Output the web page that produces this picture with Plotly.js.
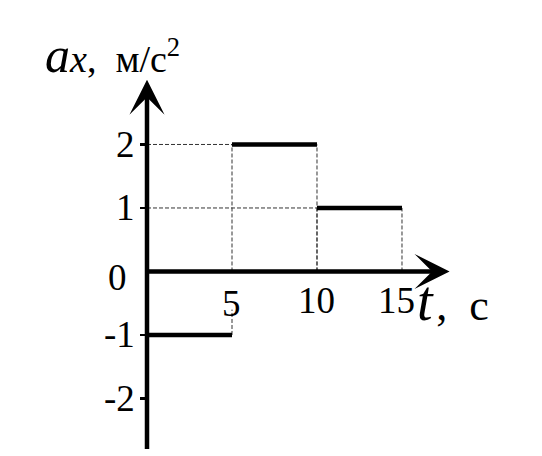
<!DOCTYPE html>
<html>
<head>
<meta charset="utf-8">
<script src="https://cdn.plot.ly/plotly-3.0.1.min.js"></script>
<style>html,body{margin:0;padding:0;background:#fff}#chart{width:542px;height:456px}</style>
</head>
<body>
<div id="chart"></div>
<script>
// Data
const tStart = [0, 5, 10];
const tEnd = [5, 10, 15];
const accel = [-1, 2, 1];
const yTickVals = [-2, -1, 0, 1, 2];
const yTickLabels = ['-2', '-1', '0', '1', '2'];
const xTickVals = [5, 10, 15];
const xTickLabels = ['5', '10', '15'];

const FONT = 'Liberation Serif, Times New Roman, serif';
const traces = [];

// dashed guide lines built from data
const gx = [], gy = [];
for (let i = 0; i < accel.length; i++) {
  const a = accel[i];
  if (tStart[i] > 0 && a > 0) { gx.push(0, tStart[i], null); gy.push(a, a, null); }
  [tStart[i], tEnd[i]].forEach(t => {
    if (t <= 0) return;
    if (a > 0) { gx.push(t, t, null); gy.push(0, a, null); }
    else { gx.push(t, t, null); gy.push(a, -0.6, null); }
  });
}
traces.push({x: gx, y: gy, mode: 'lines', line: {color: '#333', width: 1, dash: '4px,2px'}, hoverinfo: 'skip', connectgaps: false});

// solid segments
for (let i = 0; i < accel.length; i++) {
  traces.push({x: [tStart[i], tEnd[i]], y: [accel[i], accel[i]], mode: 'lines', line: {color: '#000', width: 4.5}, hoverinfo: 'skip'});
}

const annotations = [];
// axes arrows
annotations.push({x: 0, y: 3.02, ax: 0, ay: -2.82, xref: 'x', yref: 'y', axref: 'x', ayref: 'y', text: '', showarrow: true, arrowhead: 3, arrowsize: 1.3, arrowwidth: 4.5, arrowcolor: '#000'});
annotations.push({x: 17.8, y: 0, ax: -0.1, ay: 0, xref: 'x', yref: 'y', axref: 'x', ayref: 'y', text: '', showarrow: true, arrowhead: 3, arrowsize: 1.3, arrowwidth: 4.5, arrowcolor: '#000'});

// y tick labels
yTickVals.forEach((v, i) => {
  annotations.push({x: 0, y: v, xref: 'x', yref: 'y', text: yTickLabels[i], showarrow: false,
    xanchor: 'right', yanchor: 'middle', xshift: v === 0 ? -18 : -10, yshift: v === 0 ? -6 : 0,
    font: {family: FONT, size: 37, color: '#000'}});
});
// x tick labels
xTickVals.forEach((v, i) => {
  annotations.push({x: v, y: -0.45, xref: 'x', yref: 'y', text: xTickLabels[i], showarrow: false,
    xanchor: 'center', yanchor: 'middle', xshift: v === 15 ? -5 : (v === 5 ? -1 : 0), yshift: v === 5 ? -3 : 0,
    font: {family: FONT, size: 37, color: '#000'}});
});
// axis titles (paper coords, outside the plot area)
annotations.push({x: -0.33, y: 1.04, xref: 'paper', yref: 'paper', xanchor: 'left', yanchor: 'middle', showarrow: false,
  text: "<i>a</i><span style='font-size:38px'><i>x</i>,&nbsp;&nbsp;м/с<sup>2</sup></span>",
  font: {family: FONT, size: 50, color: '#000'}});
annotations.push({x: 15.75, y: -0.47, xref: 'x', yref: 'y', xanchor: 'left', yanchor: 'middle', showarrow: false,
  text: "<i>t</i><span style='font-size:44px'>&#8202;,&nbsp;&nbsp;с</span>",
  font: {family: FONT, size: 56, color: '#000'}});

const layout = {
  width: 542, height: 456,
  margin: {l: 147, r: 80, t: 70, b: 4},
  paper_bgcolor: '#fff', plot_bgcolor: '#fff',
  showlegend: false,
  xaxis: {range: [0, 18.53], showgrid: false, zeroline: false, showticklabels: false, showline: false, ticks: ''},
  yaxis: {range: [-2.843, 3.173], showgrid: false, zeroline: false, showticklabels: false, showline: false,
    tickvals: yTickVals.filter(v => v !== 0), ticks: 'outside', ticklen: 6, tickwidth: 2.5, tickcolor: '#000'},
  annotations: annotations
};
Plotly.newPlot('chart', traces, layout, {displayModeBar: false, staticPlot: true});
</script>
</body>
</html>
